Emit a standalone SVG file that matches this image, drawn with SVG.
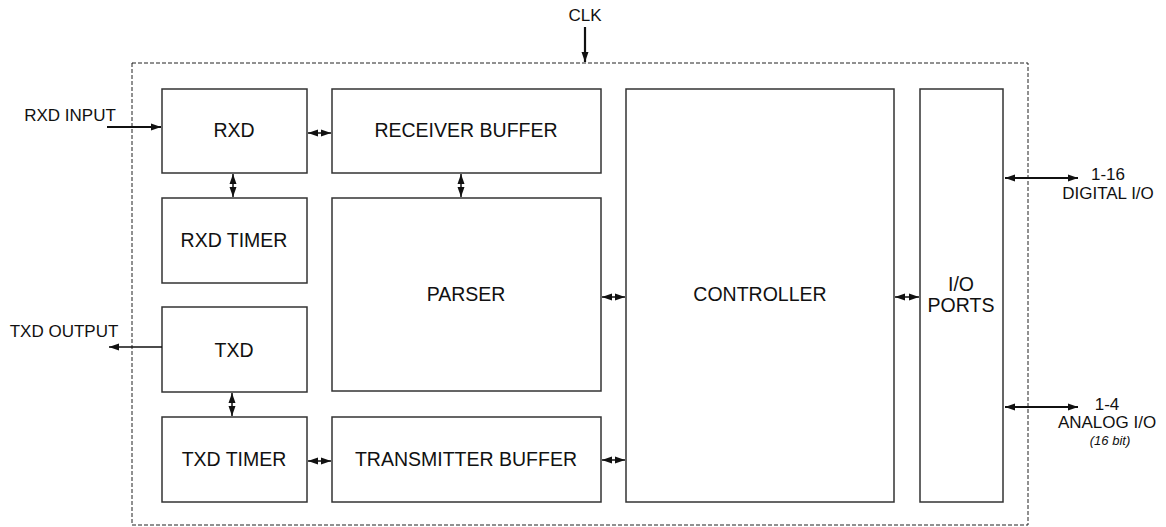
<svg xmlns="http://www.w3.org/2000/svg" width="1166" height="527" viewBox="0 0 1166 527">
<style>
.box{fill:#fff;stroke:#333;stroke-width:1.5}
.t{font-family:"Liberation Sans",Arial,sans-serif;font-size:17px;fill:#111;text-anchor:middle}
.b{font-size:19.5px}
.c{stroke:#111;stroke-width:1.5;fill:none}
.ct{stroke:#111;stroke-width:2.2;fill:none}
</style>
<defs>
<marker id="ah" viewBox="0 0 10 10" refX="10" refY="5" markerWidth="10" markerHeight="10" markerUnits="userSpaceOnUse" orient="auto-start-reverse"><path d="M0,1.5 L10,5 L0,8.5 z" fill="#111"/></marker>
<marker id="ahl" viewBox="0 0 10 10" refX="10" refY="5" markerWidth="13" markerHeight="10" markerUnits="userSpaceOnUse" orient="auto-start-reverse"><path d="M0,1.5 L10,5 L0,8.5 z" fill="#111"/></marker>
</defs>
<rect x="132" y="63" width="896" height="462" fill="none" stroke="#222" stroke-width="1" stroke-dasharray="4,2"/>
<g id="rxd"><rect class="box" x="162" y="89" width="145" height="84"/><text class="t b" x="234" y="137">RXD</text></g>
<g id="receiver-buffer"><rect class="box" x="332" y="89" width="269" height="84"/><text class="t b" x="466" y="137">RECEIVER BUFFER</text></g>
<g id="rxd-timer"><rect class="box" x="162" y="198" width="145" height="85"/><text class="t b" x="234" y="247">RXD TIMER</text></g>
<g id="parser"><rect class="box" x="332" y="198" width="269" height="193"/><text class="t b" x="466" y="301">PARSER</text></g>
<g id="txd"><rect class="box" x="162" y="307" width="145" height="85"/><text class="t b" x="234" y="357">TXD</text></g>
<g id="txd-timer"><rect class="box" x="162" y="417" width="145" height="85"/><text class="t b" x="234" y="466">TXD TIMER</text></g>
<g id="transmitter-buffer"><rect class="box" x="332" y="417" width="269" height="85"/><text class="t b" x="466" y="466">TRANSMITTER BUFFER</text></g>
<g id="controller"><rect class="box" x="626" y="89" width="268" height="413"/><text class="t b" x="760" y="301">CONTROLLER</text></g>
<g id="io-ports"><rect class="box" x="920" y="89" width="83" height="413"/><text class="t b" x="961" y="291">I/O</text><text class="t b" x="961" y="312">PORTS</text></g>
<g id="labels">
<text class="t" x="585" y="21">CLK</text>
<text class="t" x="70" y="121">RXD INPUT</text>
<text class="t" x="64" y="337">TXD OUTPUT</text>
<text class="t" x="1108" y="180">1-16</text>
<text class="t" x="1108" y="199">DIGITAL I/O</text>
<text class="t" x="1107" y="410">1-4</text>
<text class="t" x="1107" y="428">ANALOG I/O</text>
<text class="t" x="1110" y="445" style="font-size:13px;font-style:italic">(16 bit)</text>
</g>
<g id="connectors">
<line class="c" x1="308" y1="133" x2="331" y2="133" marker-start="url(#ah)" marker-end="url(#ah)"/>
<line class="c" x1="233" y1="174" x2="233" y2="197" marker-start="url(#ah)" marker-end="url(#ah)"/>
<line class="c" x1="461" y1="174" x2="461" y2="197" marker-start="url(#ah)" marker-end="url(#ah)"/>
<line class="c" x1="602" y1="297" x2="625" y2="297" marker-start="url(#ah)" marker-end="url(#ah)"/>
<line class="c" x1="895" y1="297" x2="919" y2="297" marker-start="url(#ah)" marker-end="url(#ah)"/>
<line class="c" x1="232" y1="393" x2="232" y2="416" marker-start="url(#ah)" marker-end="url(#ah)"/>
<line class="c" x1="308" y1="461" x2="331" y2="461" marker-start="url(#ah)" marker-end="url(#ah)"/>
<line class="c" x1="602" y1="460" x2="625" y2="460" marker-start="url(#ah)" marker-end="url(#ah)"/>
<line class="ct" x1="107" y1="127" x2="161" y2="127" marker-end="url(#ahl)"/>
<line class="c" x1="162" y1="347" x2="109" y2="347" marker-end="url(#ahl)"/>
<line class="ct" x1="585" y1="27" x2="585" y2="62" marker-end="url(#ahl)"/>
<line class="ct" x1="1005" y1="178" x2="1078" y2="178" marker-start="url(#ahl)" marker-end="url(#ahl)"/>
<line class="ct" x1="1005" y1="407" x2="1078" y2="407" marker-start="url(#ahl)" marker-end="url(#ahl)"/>
</g>
</svg>
